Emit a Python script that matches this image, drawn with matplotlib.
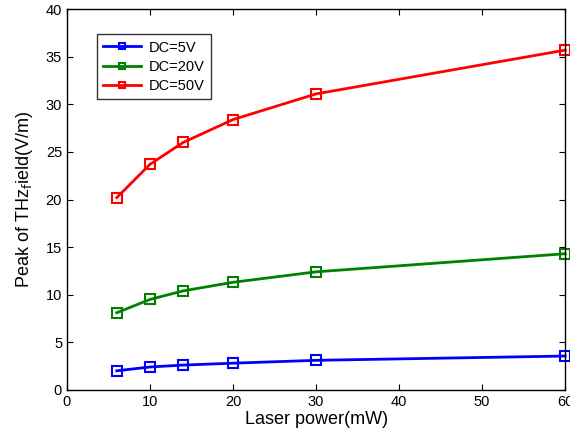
import matplotlib
matplotlib.use('Agg')
import matplotlib.pyplot as plt

plt.rcParams['font.family'] = 'Liberation Sans'
plt.rcParams['font.size'] = 10

power = [6, 10, 14, 20, 30, 60]
dc5 = [2.0, 2.4, 2.6, 2.8, 3.1, 3.55]
dc20 = [8.1, 9.5, 10.4, 11.3, 12.4, 14.3]
dc50 = [20.2, 23.7, 26.0, 28.4, 31.1, 35.7]

fig = plt.figure(figsize=(5.7, 4.38), dpi=100)
ax = fig.add_axes([0.1175, 0.11, 0.874, 0.869])

for y, c, lab in zip([dc5, dc20, dc50], ['#0000ff', '#008000', '#ff0000'],
                     ['DC=5V', 'DC=20V', 'DC=50V']):
    ax.plot(power, y, color=c, lw=2, marker='s', ms=6.5, mfc='none',
            mew=1.5, label=lab, clip_on=False)

ax.set_xlim(0, 60)
ax.set_ylim(0, 40)
ax.set_xticks(range(0, 61, 10))
ax.set_yticks(range(0, 41, 5))
ax.tick_params(direction='in', top=True, right=True, length=4, labelsize=10.5)
for s in ax.spines.values():
    s.set_linewidth(1)

ax.set_xlabel('Laser power(mW)', fontsize=13, labelpad=2)
ax.set_ylabel(r'Peak of THz$_{\mathrm{f}}$ield(V/m)', fontsize=13, labelpad=8)

leg = ax.legend(loc='upper left', bbox_to_anchor=(0.06, 0.935), borderaxespad=0,
                fancybox=False, edgecolor='black', fontsize=10.5,
                handlelength=2.6, markerscale=0.7, borderpad=0.45,
                labelspacing=0.35, handletextpad=0.5)
leg.get_frame().set_linewidth(1)

fig.savefig('out.png', dpi=100)
